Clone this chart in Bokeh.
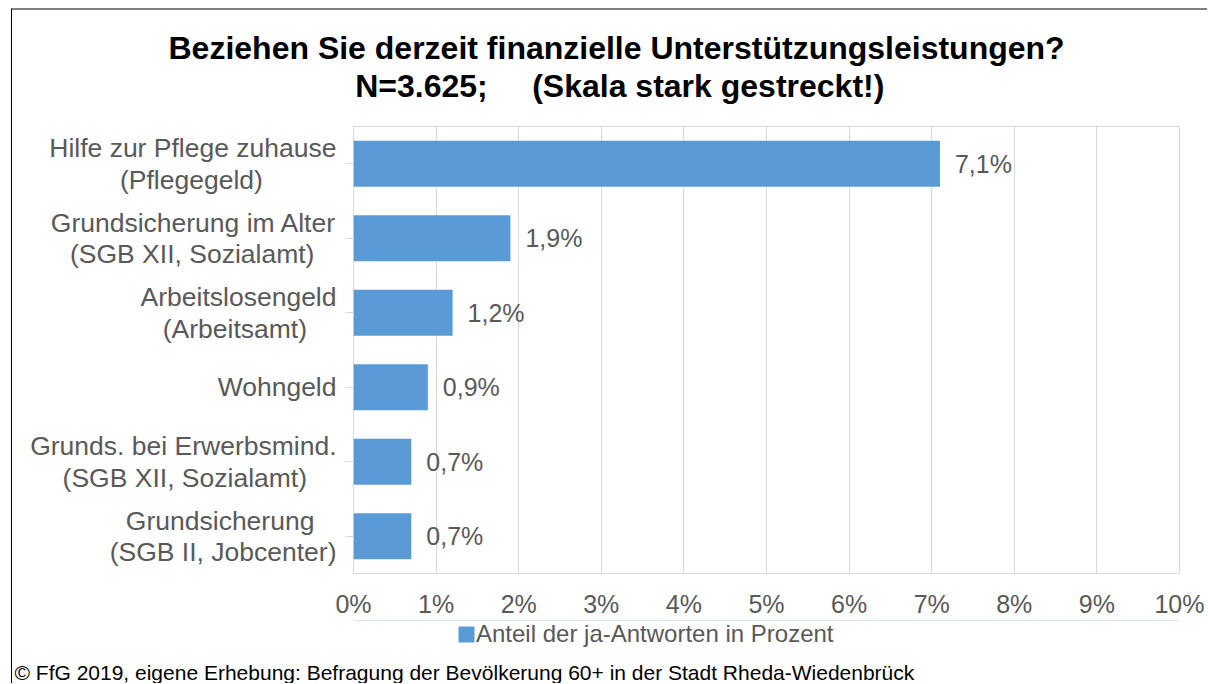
from bokeh.plotting import figure
from bokeh.layouts import column
from bokeh.models import (FactorRange, Range1d, FixedTicker, Legend, LegendItem,
                          Title, ColumnDataSource)
from bokeh.core.properties import value
from bokeh.embed import file_html
from bokeh.resources import INLINE

# ---- data ----
categories = [
    ["Hilfe zur Pflege zuhause", "(Pflegegeld)"],
    ["Grundsicherung im Alter", "(SGB XII, Sozialamt)"],
    ["Arbeitslosengeld", "(Arbeitsamt)"],
    ["Wohngeld"],
    ["Grunds. bei Erwerbsmind.", "(SGB XII, Sozialamt)"],
    ["Grundsicherung", "(SGB II, Jobcenter)"],
]
values = [7.1, 1.9, 1.2, 0.9, 0.7, 0.7]
x_ticks = [0, 1, 2, 3, 4, 5, 6, 7, 8, 9, 10]
x_tick_labels = [f"{t}%" for t in x_ticks]
series_name = "Anteil der ja-Antworten in Prozent"
title_line1 = "Beziehen Sie derzeit finanzielle Unterstützungsleistungen?"
title_line2 = "N=3.625;" + "\u00a0" * 4 + " (Skala stark gestreckt!)"
footer = "© FfG 2019, eigene Erhebung: Befragung der Bevölkerung 60+ in der Stadt Rheda-Wiedenbrück"

FONT = "Liberation Sans"
GRAY = "#595959"
GRID = "#d9d9d9"
BLUE = "#5b9bd5"
NB = "\u00a0"

# trailing no-break spaces so that the two lines of a label look centred
# (the axis aligns each line to the right)
pad = [[0, 10], [0, 3], [0, 4], [0], [0, 4], [3, 0]]
axis_labels = ["\n".join(line + NB * n for line, n in zip(c, pd))
               for c, pd in zip(categories, pad)]

labels = [f"{v:.1f}".replace(".", ",") + "%" for v in values]
src = ColumnDataSource(dict(y=axis_labels, v=values, lab=labels))

# ---------------- main chart ----------------
p = figure(frame_width=826, frame_height=447, output_backend="svg",
           toolbar_location=None,
           y_range=FactorRange(factors=list(reversed(axis_labels))),
           x_range=Range1d(0, 10),
           min_border_left=341, min_border_right=28, min_border_top=116,
           min_border_bottom=46, background_fill_color="white",
           border_fill_color="white")

p.outline_line_color = GRID
p.outline_line_width = 1

bars = p.hbar(y="y", right="v", left=0, height=0.62, source=src,
              fill_color=BLUE, line_color=None)
p.text(x="v", y="y", text="lab", source=src, x_offset=15,
       text_baseline="middle", text_align="left", text_color=GRAY,
       text_font=value(FONT), text_font_size="25px")

# x axis
p.xaxis.ticker = FixedTicker(ticks=x_ticks)
p.xaxis.major_label_overrides = {t: l for t, l in zip(x_ticks, x_tick_labels)}
p.xaxis.axis_line_color = None
p.xaxis.major_tick_line_color = None
p.xaxis.minor_tick_line_color = None
p.xaxis.major_label_text_font = FONT
p.xaxis.major_label_text_font_size = "25px"
p.xaxis.major_label_text_color = GRAY
p.xaxis.major_label_standoff = 10

# y axis
p.yaxis.axis_line_color = None
p.yaxis.major_tick_line_color = GRID
p.yaxis.major_tick_out = 8
p.yaxis.major_tick_in = 0
p.yaxis.major_label_text_font = FONT
p.yaxis.major_label_text_font_size = "26.5px"
p.yaxis.major_label_text_color = GRAY
p.yaxis.major_label_text_line_height = 1.05
p.yaxis.major_label_standoff = 9

p.xgrid.grid_line_color = GRID
p.ygrid.grid_line_color = None

# spacer between frame and title, then the two-line title
p.add_layout(Title(text=" ", text_font_size="1px", standoff=19), "above")
p.add_layout(Title(text=title_line1 + "\n" + NB * 21 + title_line2,
                   align="left", offset=-185, text_font=FONT,
                   text_font_size="32px", text_font_style="bold",
                   text_line_height=1.06,
                   text_color="#000000", standoff=0), "above")

# ---------------- legend + source strip ----------------
# (frames of both figures are aligned by the column: frame left = 341px)
q = figure(width=1195, height=63, output_backend="svg", toolbar_location=None,
           x_axis_type=None, y_axis_type=None,
           x_range=Range1d(0, 1), y_range=Range1d(0, 1),
           min_border_left=0, min_border_right=0, min_border_top=0,
           min_border_bottom=0, background_fill_color=None,
           border_fill_color="white")
q.outline_line_color = None
q.outline_line_alpha = 0
q.grid.visible = False
# legend-only swatch, kept outside the visible range
swatch = q.hbar(y=[5], right=[1], left=0, height=1, fill_color=BLUE,
                line_color=None)
legend = Legend(items=[LegendItem(label=series_name, renderers=[swatch])],
                location=(103, 10), orientation="horizontal",
                border_line_color=None, background_fill_alpha=0,
                padding=0, margin=0, glyph_width=20, glyph_height=20,
                label_standoff=0, label_height=20,
                label_text_font=FONT, label_text_font_size="24px",
                label_text_color=GRAY)
q.add_layout(legend, "center")
q.add_layout(Title(text=footer, align="left", offset=-339, text_font=FONT,
                   text_font_size="21px", text_font_style="normal",
                   text_color="#000000", standoff=0), "below")

layout = column(p, q, spacing=0)
layout.styles = {"border-left": "1px solid #000000",
                 "border-top": "2px solid #7f7f7f",
                 "margin-left": "11px", "margin-top": "8px"}

open("out.html", "w").write(file_html(layout, INLINE))
